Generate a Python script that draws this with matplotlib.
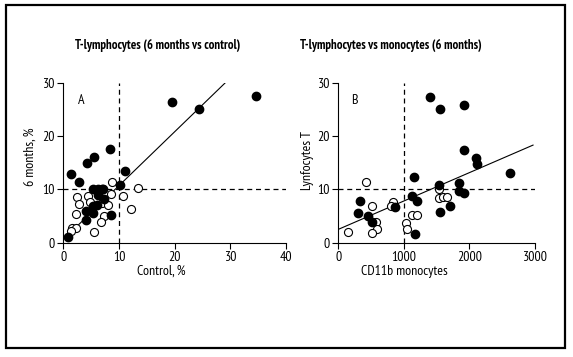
import matplotlib.pyplot as plt
from matplotlib.patches import Rectangle

# Panel A: T-lymphocytes, control vs 6 months
a_filled_x = [34.7, 19.6, 24.3, 8.4, 5.6, 4.3, 1.4, 11.0, 2.9, 10.1,
              5.4, 6.2, 6.9, 7.2, 6.2, 7.3, 6.0, 5.3, 4.0, 5.4, 8.6, 4.0, 0.9]
a_filled_y = [27.5, 26.4, 25.1, 17.5, 16.1, 15.0, 12.8, 13.4, 11.4, 10.8,
              10.0, 10.0, 10.0, 10.0, 8.9, 8.1, 7.1, 6.8, 5.9, 5.6, 5.2, 4.25, 1.1]
a_open_x = [8.7, 13.5, 2.5, 4.5, 8.6, 10.8, 2.9, 4.8, 6.9, 8.1,
            12.2, 2.2, 7.4, 6.7, 1.6, 2.3, 1.3, 5.6]
a_open_y = [11.4, 10.2, 8.6, 8.75, 9.1, 8.75, 7.2, 7.7, 7.4, 7.1,
            6.3, 5.4, 5.0, 3.8, 2.7, 2.7, 2.25, 2.1]
a_fit = (0.6, 1.01)          # intercept, slope
a_fit_range = (0.5, 29.1)

# Panel B: T-lymphocytes vs CD11b monocytes
b_filled_x = [1402, 1549, 1920, 1915, 2093, 2123, 2626, 1158, 1839, 1529, 1844,
              1915, 1118, 1204, 1707, 1544, 869, 325, 305, 447, 513, 1173]
b_filled_y = [27.25, 25.0, 25.9, 17.3, 15.8, 14.75, 13.1, 12.3, 11.1, 10.75, 9.75,
              9.3, 8.7, 7.8, 6.8, 5.7, 6.6, 7.75, 5.5, 5.0, 3.8, 1.6]
b_open_x = [422, 1529, 1539, 1590, 1651, 518, 838, 803, 1128, 1204,
            1031, 1052, 574, 594, 513, 152]
b_open_y = [11.3, 10.1, 8.4, 8.5, 8.6, 6.9, 7.6, 6.9, 5.1, 5.1,
            3.6, 2.5, 3.8, 2.6, 1.8, 2.1]
b_fit = (2.5, 0.00532)
b_fit_range = (0, 2970)

plt.rcParams["font.family"] = ["PT Sans Narrow", "DejaVu Sans"]

fig = plt.figure(figsize=(5.73, 3.57), dpi=100)
fig.patches.append(Rectangle((6 / 573, 1 - 348 / 357), 559 / 573, 343 / 357,
                             transform=fig.transFigure, fill=False,
                             edgecolor="black", linewidth=1.6))


def draw_panel(ax, fx, fy, ox, oy, fit, fit_range, xlim, xticks, vx, letter):
    ax.axvline(vx, color="black", linestyle=(0, (4, 3)), linewidth=0.9)
    ax.axhline(10, color="black", linestyle=(0, (4, 3)), linewidth=0.9)
    x0, x1 = fit_range
    ax.plot([x0, x1], [fit[0] + fit[1] * x0, fit[0] + fit[1] * x1],
            color="black", linewidth=0.8)
    ax.plot(ox, oy, "o", markersize=5.8, markerfacecolor="white",
            markeredgecolor="black", markeredgewidth=0.8, linestyle="none")
    ax.plot(fx, fy, "o", markersize=6, color="black", linestyle="none")
    ax.set_xlim(xlim)
    ax.set_ylim(0, 30)
    ax.set_xticks(xticks)
    ax.set_yticks([0, 10, 20, 30])
    ax.spines["top"].set_visible(False)
    ax.spines["right"].set_visible(False)
    ax.tick_params(direction="out", length=4, width=0.8, labelsize=10,
                   pad=2, colors="black")
    ax.text(0.08, 0.93, letter, transform=ax.transAxes, fontsize=10,
            ha="center", va="top")
    for s in ax.spines.values():
        s.set_clip_on(False)


ax1 = fig.add_axes([63.3 / 573, 1 - 242.7 / 357, 222.7 / 573, 160 / 357])
draw_panel(ax1, a_filled_x, a_filled_y, a_open_x, a_open_y, a_fit,
           a_fit_range, (0, 40), [0, 10, 20, 30, 40], 10, "A")

ax2 = fig.add_axes([338.3 / 573, 1 - 242.7 / 357, 196.7 / 573, 160 / 357])
draw_panel(ax2, b_filled_x, b_filled_y, b_open_x, b_open_y, b_fit,
           b_fit_range, (0, 3000), [0, 1000, 2000, 3000], 1000, "B")

fig.text(158 / 573, 1 - 46 / 357, "T-lymphocytes (6 months vs control)",
         ha="center", va="center", fontsize=9.2, fontweight="bold")
fig.text(391 / 573, 1 - 46 / 357, "T-lymphocytes vs monocytes (6 months)",
         ha="center", va="center", fontsize=9.2, fontweight="bold")
fig.text(161 / 573, 1 - 271 / 357, "Control, %", ha="center", va="center",
         fontsize=10)
fig.text(404 / 573, 1 - 271 / 357, "CD11b monocytes", ha="center",
         va="center", fontsize=10)
fig.text(30 / 573, 1 - 157 / 357, "6 months, %", ha="center", va="center",
         rotation=90, fontsize=10)
fig.text(308 / 573, 1 - 160 / 357, "Lynfocytes T", ha="center", va="center",
         rotation=90, fontsize=10)

fig.savefig("out.png", dpi=100)
